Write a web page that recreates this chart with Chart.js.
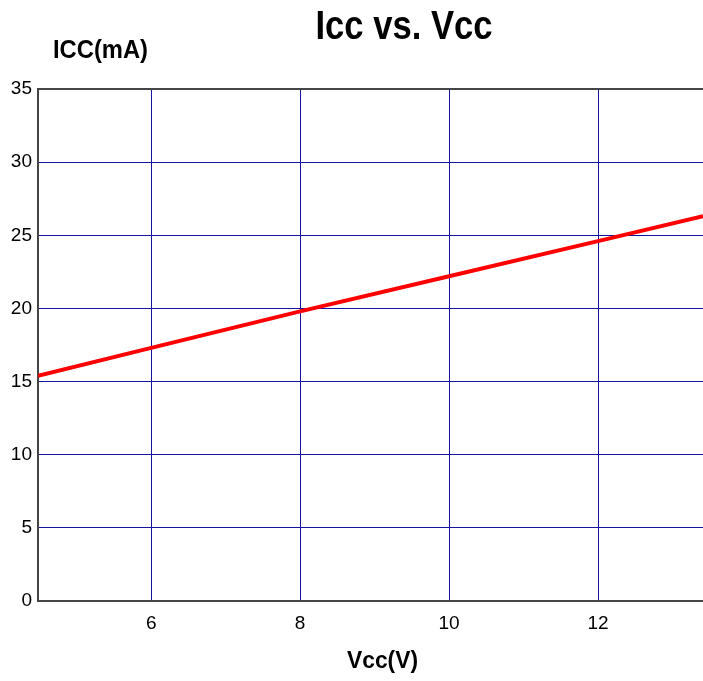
<!DOCTYPE html>
<html>
<head>
<meta charset="utf-8">
<script src="https://cdn.jsdelivr.net/npm/chart.js@4.4.1/dist/chart.umd.min.js"></script>
<style>
html,body{margin:0;padding:0;background:#fff;}
#wrap{width:703px;height:681px;}
</style>
</head>
<body>
<div id="wrap"><canvas id="c" width="703" height="681"></canvas></div>
<script>
const vcc = [4.48, 6, 8, 10, 12, 13.41];
const icc = [15.4, 17.3, 19.8, 22.2, 24.6, 26.3];
const xTicks = [6, 8, 10, 12];
const yTicks = [0, 5, 10, 15, 20, 25, 30, 35];
const titleText = 'Icc vs. Vcc';
const yTitle = 'ICC(mA)';
const xTitle = 'Vcc(V)';

const gridBlue = '#1414A0';
const axisGray = '#454545';

function drawScaled(ctx, text, font, cx, baseline, targetW) {
  ctx.save();
  ctx.font = font;
  const w = ctx.measureText(text).width;
  const s = targetW / w;
  ctx.translate(cx, baseline);
  ctx.scale(s, 1);
  ctx.textAlign = 'center';
  ctx.textBaseline = 'alphabetic';
  ctx.fillStyle = '#000';
  ctx.fillText(text, 0, 0);
  ctx.restore();
}

const textPlugin = {
  id: 'texts',
  afterDraw(chart) {
    const ctx = chart.ctx;
    drawScaled(ctx, titleText, 'bold 40px "Liberation Sans", Arial, sans-serif', 404, 39, 177);
    drawScaled(ctx, yTitle, 'bold 25px "Liberation Sans", Arial, sans-serif', 100.5, 58, 95);
    drawScaled(ctx, xTitle, 'bold 24px "Liberation Sans", Arial, sans-serif', 382.5, 668, 71);
    const a = chart.chartArea;
    ctx.save();
    ctx.strokeStyle = axisGray;
    ctx.lineWidth = 2;
    ctx.beginPath();
    ctx.moveTo(a.left - 1, a.top);
    ctx.lineTo(a.right, a.top);
    ctx.stroke();
    ctx.restore();
  }
};

new Chart(document.getElementById('c'), {
  type: 'line',
  data: {
    datasets: [{
      data: vcc.map((v, i) => ({x: v, y: icc[i]})),
      borderColor: '#FF0000',
      borderWidth: 4,
      pointRadius: 0,
      tension: 0,
      fill: false
    }]
  },
  options: {
    responsive: false,
    animation: false,
    layout: {padding: {top: 89, right: 0, bottom: 0, left: 0}},
    plugins: {legend: {display: false}, tooltip: {enabled: false}, title: {display: false}},
    scales: {
      x: {
        type: 'linear',
        min: 4.48,
        max: 13.41,
        afterBuildTicks(scale) { scale.ticks = xTicks.map(v => ({value: v})); },
        afterFit(scale) { scale.height = 80; },
        grid: {color: gridBlue, lineWidth: 1, drawTicks: false},
        border: {color: axisGray, width: 2},
        ticks: {color: '#000', font: {family: '"Liberation Sans", Arial, sans-serif', size: 19}, padding: 11, maxRotation: 0}
      },
      y: {
        type: 'linear',
        min: 0,
        max: 35,
        afterBuildTicks(scale) { scale.ticks = yTicks.map(v => ({value: v})); },
        afterFit(scale) { scale.width = 38; },
        grid: {color: gridBlue, lineWidth: 1, drawTicks: false},
        border: {color: axisGray, width: 2},
        ticks: {color: '#000', font: {family: '"Liberation Sans", Arial, sans-serif', size: 19}, padding: 6}
      }
    }
  },
  plugins: [textPlugin]
});
</script>
</body>
</html>
